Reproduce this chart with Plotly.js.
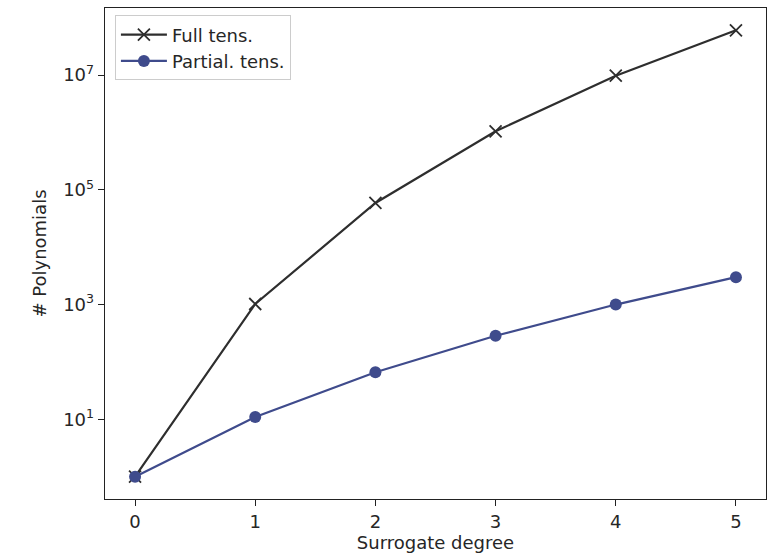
<!DOCTYPE html>
<html>
<head>
<meta charset="utf-8">
<script src="https://cdn.plot.ly/plotly-3.0.1.min.js"></script>
<style>html,body{margin:0;padding:0;background:#fff}#chart{width:775px;height:556px}</style>
</head>
<body>
<div id="chart"></div>
<script>
const degrees = [0, 1, 2, 3, 4, 5];
const fullTens = [1, 1024, 59049, 1048576, 9765625, 60466176];
const partialTens = [1, 11, 66, 286, 1001, 3003];
const yTickVals = [10, 1000, 100000, 10000000];
const yTickText = ["10<sup>1</sup>", "10<sup>3</sup>", "10<sup>5</sup>", "10<sup>7</sup>"];
const xTickVals = [0, 1, 2, 3, 4, 5];

const font = {family: "DejaVu Sans", size: 18, color: "#262626"};

const traces = [
  {x: degrees, y: fullTens, name: "Full tens.", mode: "lines+markers",
   line: {color: "#2e2e2e", width: 2.2},
   marker: {symbol: "x-thin-open", size: 12, line: {color: "#2e2e2e", width: 1.8}, color: "#2e2e2e"}},
  {x: degrees, y: partialTens, name: "Partial. tens.", mode: "lines+markers",
   line: {color: "#3f4b8c", width: 2.2},
   marker: {symbol: "circle", size: 12, color: "#3f4b8c"}}
];

const layout = {
  width: 775, height: 556,
  margin: {l: 105, r: 9, t: 8, b: 57},
  paper_bgcolor: "#fff", plot_bgcolor: "#fff",
  font: font,
  showlegend: true,
  legend: {x: 0.015, y: 0.985, xanchor: "left", yanchor: "top",
    bgcolor: "rgba(255,255,255,0.8)", bordercolor: "#cccccc", borderwidth: 1,
    font: {family: "DejaVu Sans", size: 18, color: "#262626"}, tracegroupgap: 0, itemwidth: 46},
  xaxis: {range: [-0.25, 5.25], tickvals: xTickVals, ticks: "outside", ticklen: 6,
    tickcolor: "#222", showgrid: false, zeroline: false, showline: true, linecolor: "#222",
    linewidth: 1.3, mirror: true, tickfont: font,
    title: {text: "Surrogate degree", font: font, standoff: 4}},
  yaxis: {type: "log", range: [-0.389, 8.17], tickvals: yTickVals, ticktext: yTickText,
    ticks: "outside", ticklen: 6, tickcolor: "#222", showgrid: false, zeroline: false,
    showline: true, linecolor: "#222", linewidth: 1.3, mirror: true, tickfont: font,
    title: {text: "# Polynomials", font: font, standoff: 12}}
};

Plotly.newPlot("chart", traces, layout, {displayModeBar: false, staticPlot: true});
</script>
</body>
</html>
